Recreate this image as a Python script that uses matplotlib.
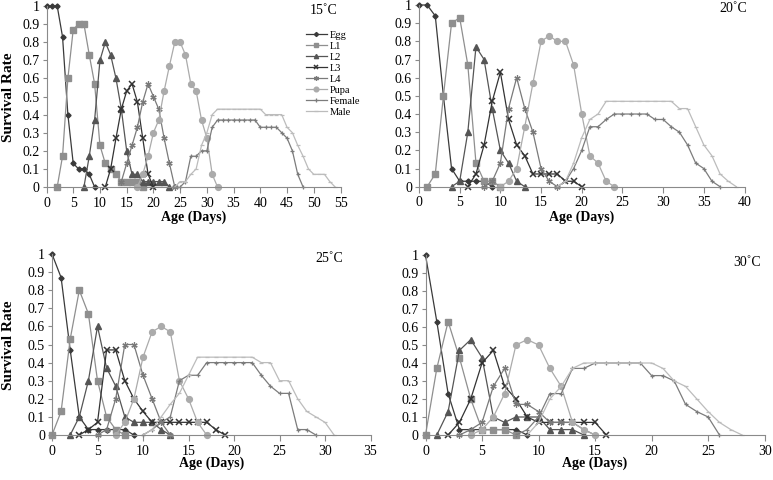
import matplotlib
matplotlib.use('Agg')
import matplotlib.pyplot as plt
import numpy as np

plt.rcParams['font.family'] = ['Liberation Serif', 'DejaVu Serif']

stages = ['Egg', 'L1', 'L2', 'L3', 'L4', 'Pupa', 'Female', 'Male']

########## 15 C ##########
egg15 = (0, [1, 1, 1, 0.83, 0.4, 0.13, 0.1, 0.1, 0.07, 0])
l1_15 = (2, [0, 0.17, 0.6, 0.87, 0.9, 0.9, 0.73, 0.57, 0.23, 0.13, 0.1, 0.07, 0.03, 0.03, 0.03, 0.03, 0])
l2_15 = (7, [0, 0.17, 0.37, 0.7, 0.8, 0.73, 0.6, 0.43, 0.2, 0.07, 0.07, 0.03, 0.03, 0.03, 0.03, 0.03, 0])
l3_15 = (11, [0, 0.1, 0.27, 0.43, 0.53, 0.57, 0.47, 0.27, 0.07, 0])
l4_15 = (14, [0.03, 0.13, 0.23, 0.33, 0.47, 0.57, 0.5, 0.43, 0.27, 0.13, 0])
pupa15 = (17, [0, 0.07, 0.17, 0.3, 0.37, 0.53, 0.67, 0.8, 0.8, 0.73, 0.57, 0.53, 0.37, 0.27, 0.07, 0])
female15 = (25, [0, 0.03, 0.17, 0.17, 0.2, 0.2, 0.33, 0.37, 0.37, 0.37, 0.37, 0.37, 0.37, 0.37, 0.37,
                 0.33, 0.33, 0.33, 0.33, 0.3, 0.27, 0.2, 0.07, 0])
male15 = (24, [0, 0.03, 0.03, 0.07, 0.1, 0.23, 0.3, 0.4, 0.43, 0.43, 0.43, 0.43, 0.43, 0.43, 0.43, 0.43, 0.43,
               0.4, 0.4, 0.4, 0.4, 0.33, 0.3, 0.23, 0.17, 0.1, 0.07, 0.07, 0.07, 0.03, 0])

########## 20 C ##########
egg20 = (0, [1, 1, 0.94, 0.5, 0.1, 0.03, 0.03, 0.03, 0.03, 0])
l1_20 = (1, [0, 0.07, 0.5, 0.9, 0.93, 0.67, 0.13, 0.03, 0.03, 0])
l2_20 = (4, [0, 0.03, 0.3, 0.77, 0.7, 0.43, 0.2, 0.13, 0.03, 0])
l3_20 = (6, [0, 0.07, 0.23, 0.47, 0.63, 0.37, 0.23, 0.17, 0.07, 0.07, 0.07, 0.07, 0.03, 0.03, 0])
l4_20 = (8, [0, 0.03, 0.13, 0.43, 0.6, 0.43, 0.3, 0.1, 0.03, 0])
pupa20 = (10, [0, 0.03, 0.1, 0.33, 0.57, 0.8, 0.83, 0.8, 0.8, 0.67, 0.4, 0.17, 0.13, 0.03, 0])
female20 = (17, [0, 0.03, 0.1, 0.2, 0.33, 0.33, 0.37, 0.4, 0.4, 0.4, 0.4, 0.4, 0.37, 0.37, 0.33, 0.3,
                 0.23, 0.13, 0.1, 0.03, 0])
male20 = (17, [0, 0.03, 0.13, 0.27, 0.37, 0.4, 0.47, 0.47, 0.47, 0.47, 0.47, 0.47, 0.47, 0.47, 0.47,
               0.43, 0.43, 0.33, 0.23, 0.17, 0.07, 0.03, 0])

########## 25 C ##########
egg25 = (0, [1, 0.87, 0.47, 0.1, 0.03, 0.03, 0.03, 0.03, 0.03, 0])
l1_25 = (0, [0, 0.13, 0.53, 0.8, 0.67, 0.3, 0.1, 0.03, 0])
l2_25 = (2, [0, 0.1, 0.3, 0.6, 0.37, 0.27, 0.1, 0.07, 0.07, 0.07, 0.03, 0])
l3_25 = (3, [0, 0.03, 0.07, 0.47, 0.47, 0.3, 0.2, 0.13, 0.07, 0.07, 0.07, 0.07, 0.07, 0.07, 0.07, 0.03, 0])
l4_25 = (5, [0, 0.03, 0.2, 0.5, 0.5, 0.33, 0.2, 0.07, 0])
pupa25 = (7, [0, 0.07, 0.2, 0.43, 0.57, 0.6, 0.57, 0.3, 0.2, 0.07, 0])
female25 = (10, [0, 0.03, 0.07, 0.1, 0.3, 0.33, 0.33, 0.4, 0.4, 0.4, 0.4, 0.4, 0.4, 0.33, 0.27,
                 0.23, 0.23, 0.03, 0.03, 0])
male25 = (10, [0, 0.03, 0.1, 0.17, 0.23, 0.33, 0.43, 0.43, 0.43, 0.43, 0.43, 0.43, 0.43, 0.4, 0.4,
               0.3, 0.3, 0.2, 0.13, 0.1, 0.07, 0])

########## 30 C ##########
egg30 = (0, [1, 0.63, 0.23, 0.03, 0.03, 0.03, 0.03, 0.03, 0.03, 0])
l1_30 = (0, [0, 0.37, 0.63, 0.43, 0.2, 0.03, 0.03, 0.03, 0])
l2_30 = (1, [0, 0.13, 0.47, 0.53, 0.43, 0.1, 0.07, 0.1, 0.1, 0.1, 0.03, 0.03, 0.03, 0])
l3_30 = (2, [0, 0.07, 0.2, 0.4, 0.47, 0.27, 0.2, 0.1, 0.07, 0.07, 0.07, 0.07, 0.07, 0.07, 0])
l4_30 = (3, [0, 0.03, 0.07, 0.27, 0.37, 0.17, 0.17, 0.13, 0.07, 0.07, 0.07, 0.03, 0])
pupa30 = (4, [0, 0.03, 0.1, 0.23, 0.5, 0.53, 0.5, 0.37, 0.27, 0.07, 0.03, 0])
female30 = (8, [0, 0.03, 0.1, 0.23, 0.23, 0.37, 0.37, 0.4, 0.4, 0.4, 0.4, 0.4, 0.33, 0.33, 0.3,
                0.17, 0.13, 0.1, 0])
male30 = (9, [0, 0.07, 0.2, 0.27, 0.37, 0.4, 0.4, 0.4, 0.4, 0.4, 0.4, 0.4, 0.37, 0.3, 0.27, 0.2,
              0.13, 0.07, 0.03, 0])

panels = [
    ('15˚C', 55, [egg15, l1_15, l2_15, l3_15, l4_15, pupa15, female15, male15]),
    ('20˚C', 40, [egg20, l1_20, l2_20, l3_20, l4_20, pupa20, female20, male20]),
    ('25˚C', 35, [egg25, l1_25, l2_25, l3_25, l4_25, pupa25, female25, male25]),
    ('30˚C', 30, [egg30, l1_30, l2_30, l3_30, l4_30, pupa30, female30, male30]),
]

# marker / colour per stage (greyscale like the original)
styles = [
    dict(color='#3a3a3a', marker='D', ms=2.6),
    dict(color='#8f8f8f', marker='s', ms=3.8),
    dict(color='#555555', marker='^', ms=3.8),
    dict(color='#333333', marker='x', ms=3.8, mew=1.1),
    dict(color='#7a7a7a', marker=(6, 2, 0), ms=4.5, mew=0.9),
    dict(color='#ababab', marker='o', ms=4.2),
    dict(color='#7c7c7c', marker='+', ms=3.5, mew=0.9),
    dict(color='#bcbcbc', marker='_', ms=3.5, mew=0.9),
]

W, H = 773, 480
# pixel boxes: left, right, top, bottom
boxes = [(46.5, 340.5, 6, 187), (419, 744.5, 5, 186.7), (52, 370.5, 254, 435), (425.5, 764.7, 255, 435)]
title_pos = [(324, 10), (733, 9), (329, 259), (747, 262)]
xlabel_y = [217, 217, 463, 463]

fig = plt.figure(figsize=(W / 100, H / 100), dpi=100)

for i, (temp, xmax, series) in enumerate(panels):
    l, r, t, b = boxes[i]
    ax = fig.add_axes([l / W, 1 - b / H, (r - l) / W, (b - t) / H])
    for name, (start, vals), st in zip(stages, series, styles):
        x = np.arange(start, start + len(vals))
        ax.plot(x, vals, lw=0.9, label=name, clip_on=False, **st)
    ax.set_xlim(0, xmax)
    ax.set_ylim(0, 1)
    ax.set_xticks(np.arange(0, xmax + 1, 5))
    ax.set_yticks(np.arange(0, 1.01, 0.1))
    ax.set_yticklabels(['0', '0.1', '0.2', '0.3', '0.4', '0.5', '0.6', '0.7', '0.8', '0.9', '1'])
    for s in ['top', 'right']:
        ax.spines[s].set_visible(False)
    for s in ['left', 'bottom']:
        ax.spines[s].set_color('#8a8a8a')
        ax.spines[s].set_linewidth(0.8)
    ax.tick_params(axis='x', direction='out', length=4, color='#8a8a8a', labelsize=10, pad=3)
    ax.tick_params(axis='y', direction='out', length=3, color='#8a8a8a', labelsize=10, pad=2)
    ax.patch.set_alpha(0)
    tx, ty = title_pos[i]
    fig.text(tx / W, 1 - ty / H, temp, fontsize=10, ha='center', va='center')
    fig.text((l + r) / 2 / W, 1 - xlabel_y[i] / H, 'Age (Days)',
             fontsize=10, fontweight='bold', ha='center', va='center')
    if i == 0:
        ax.legend(loc='upper left', bbox_to_anchor=(0.865, 0.895), frameon=False, fontsize=7.5,
                  handlelength=2.0, handletextpad=0.25, labelspacing=0.17, borderpad=0,
                  markerscale=0.8)

fig.text(9 / W, 1 - 97 / H, 'Survival Rate', rotation=90, fontsize=11, fontweight='bold',
         ha='center', va='center')
fig.text(9 / W, 1 - 345 / H, 'Survival Rate', rotation=90, fontsize=11, fontweight='bold',
         ha='center', va='center')

fig.savefig('out.png', dpi=100)
